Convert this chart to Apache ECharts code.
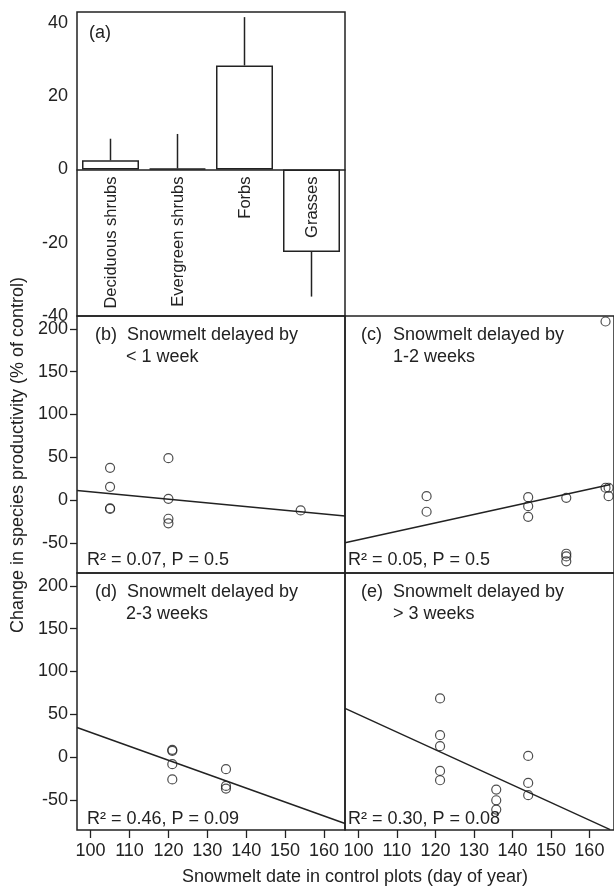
<!DOCTYPE html>
<html>
<head>
<meta charset="utf-8">
<script src="https://cdn.jsdelivr.net/npm/echarts@6/dist/echarts.min.js"></script>
<style>
html, body { margin: 0; padding: 0; background: #fff; }
#box { width: 614px; height: 889px; }
</style>
</head>
<body>
<div id="box"></div>
<script>
// (a) mean change per functional group, with one-sided error bars
const groups = ["Deciduous shrubs", "Evergreen shrubs", "Forbs", "Grasses"]
const groupMeans = [2.5, 0.3, 28.4, -22.5]
const groupErrs = [5.9, 9.4, 13.2, 12.2]
const ticksA = [-40, -20, 0, 20, 40]

// (b)-(e) [snowmelt day in control plots, change %]
const ptsB = [[105, 37.8], [105, 15.6], [105, -9.4], [105, -10.2], [120, 49], [120, 1.6], [120, -21.7], [120, -27], [154, -12]]
const ptsC = [[117.7, 4.7], [117.7, -13.5], [144.1, 3.5], [144.1, -7], [144.1, -19.4], [154, 2.8], [154, -62.5], [154, -65.6], [154, -71.4], [164.2, 14.5], [165, 14.5], [165, 4.7], [164.2, 208.6]]
const ptsD = [[121, 8.6], [121, 7.4], [121, -8.2], [121, -26], [134.8, -14], [134.8, -33.5], [134.8, -36.6]]
const ptsE = [[121.2, 68.6], [121.2, 25.7], [121.2, 12.9], [121.2, -16], [121.2, -26.9], [135.8, -37.8], [135.8, -50.3], [135.8, -61.2], [144.1, 1.5], [144.1, -30], [144.1, -44.4]]

// regression lines, ends
const fitB = [[96.5, 11.3], [165.4, -18.6]]
const fitC = [[96.5, -49.7], [165.5, 18.3]]
const fitD = [[96.5, 34.7], [165.4, -77.5]]
const fitE = [[96.5, 57], [165.4, -84.6]]

const yTicks = [-50, 0, 50, 100, 150, 200]
const xTicks = [100, 110, 120, 130, 140, 150, 160]

const ink = "#222"
const font = "Liberation Sans, Arial, sans-serif"

let myCharts = echarts.init(document.getElementById("box"))

function grid(left, top, width, height) {
	return { left, top, width, height, show: true, borderColor: ink, borderWidth: 1.5, backgroundColor: "transparent" }
}
function yScatter(gi, showLabels) {
	return {
		type: "value", gridIndex: gi, min: -85, max: 215,
		axisLine: { show: false, onZero: false },
		splitLine: { show: false },
		axisTick: { show: showLabels, length: 7, customValues: yTicks, lineStyle: { color: ink, width: 1.3 } },
		axisLabel: { show: showLabels, customValues: yTicks, margin: 9, fontSize: 18, color: ink, fontFamily: font },
	}
}
function xScatter(gi, max, showLabels) {
	return {
		type: "value", gridIndex: gi, min: 96.5, max: max,
		axisLine: { show: false, onZero: false },
		splitLine: { show: false },
		axisTick: { show: showLabels, length: 8, customValues: xTicks, lineStyle: { color: ink, width: 1.3 } },
		axisLabel: { show: showLabels, customValues: xTicks, margin: 12, fontSize: 18, color: ink, fontFamily: font },
	}
}
function pts(i, data) {
	return {
		type: "scatter", xAxisIndex: i, yAxisIndex: i, data: data,
		symbol: "circle", symbolSize: 9,
		itemStyle: { color: "rgba(0,0,0,0)", borderColor: ink, borderWidth: 1.2 },
	}
}
function fit(i, data) {
	return {
		type: "line", xAxisIndex: i, yAxisIndex: i, data: data,
		showSymbol: false, lineStyle: { color: ink, width: 1.5 },
	}
}
function txt(x, y, s, extra) {
	return {
		type: "text", x: x, y: y,
		style: Object.assign({ text: s, fontSize: 18, fontFamily: font, fill: ink, textAlign: "left", textVerticalAlign: "middle" }, extra || {}),
	}
}

let option = {
	animation: false,
	grid: [
		grid(77, 12, 268, 304),
		grid(77, 316, 268, 257),
		grid(345, 316, 272, 257),
		grid(77, 573, 268, 257),
		grid(345, 573, 272, 257),
	],
	xAxis: [
		{
			type: "category", gridIndex: 0, data: groups,
			axisLine: { onZero: true, lineStyle: { color: ink, width: 1.5 } },
			axisTick: { show: false },
			axisLabel: { show: false },
		},
		xScatter(1, 165.4, false),
		xScatter(2, 166.4, false),
		xScatter(3, 165.4, true),
		xScatter(4, 166.4, true),
	],
	yAxis: [
		{
			type: "value", gridIndex: 0, min: -40, max: 43,
			axisLine: { show: false },
			splitLine: { show: false },
			axisTick: { length: 7, customValues: ticksA, lineStyle: { color: ink, width: 1.3 } },
			axisLabel: { customValues: ticksA, margin: 9, fontSize: 18, color: ink, fontFamily: font },
		},
		yScatter(1, true),
		yScatter(2, false),
		yScatter(3, true),
		yScatter(4, false),
	],
	series: [
		{
			type: "bar", xAxisIndex: 0, yAxisIndex: 0, data: groupMeans, barWidth: 57,
			itemStyle: { color: "#fff", borderColor: ink, borderWidth: 1.5 },
		},
		{
			// one-sided error bars
			type: "custom", xAxisIndex: 0, yAxisIndex: 0,
			data: groupMeans.map((m, i) => [i, m, m >= 0 ? m + groupErrs[i] : m - groupErrs[i]]),
			renderItem: function(params, api) {
				let p0 = api.coord([api.value(0), api.value(1)])
				let p1 = api.coord([api.value(0), api.value(2)])
				return {
					type: "line",
					shape: { x1: p0[0], y1: p0[1], x2: p1[0], y2: p1[1] },
					style: { stroke: ink, lineWidth: 1.5 },
				}
			},
		},
		{
			// group names hang below the zero line, reading upwards
			type: "custom", xAxisIndex: 0, yAxisIndex: 0, z: 5,
			data: groups.map((g, i) => [i, 0]),
			renderItem: function(params, api) {
				let p = api.coord([api.value(0), 0])
				return {
					type: "text", x: p[0] + 1, y: p[1] + 7, rotation: Math.PI / 2,
					style: { text: groups[params.dataIndex], fontSize: 16.5, fontFamily: font, fill: ink, textAlign: "right", textVerticalAlign: "middle" },
				}
			},
		},
		pts(1, ptsB), fit(1, fitB),
		pts(2, ptsC), fit(2, fitC),
		pts(3, ptsD), fit(3, fitD),
		pts(4, ptsE), fit(4, fitE),
	],
	graphic: [
		txt(89, 33, "(a)"),
		txt(95, 335, "(b)"), txt(127, 335, "Snowmelt delayed by"), txt(126, 357, "< 1 week"),
		txt(361, 335, "(c)"), txt(393, 335, "Snowmelt delayed by"), txt(393, 357, "1-2 weeks"),
		txt(95, 592, "(d)"), txt(127, 592, "Snowmelt delayed by"), txt(126, 614, "2-3 weeks"),
		txt(361, 592, "(e)"), txt(393, 592, "Snowmelt delayed by"), txt(393, 614, "> 3 weeks"),
		txt(87, 560, "R² = 0.07, P = 0.5"),
		txt(348, 560, "R² = 0.05, P = 0.5"),
		txt(87, 819, "R² = 0.46, P = 0.09"),
		txt(348, 819, "R² = 0.30, P = 0.08"),
		txt(355, 877, "Snowmelt date in control plots (day of year)", { textAlign: "center" }),
		{
			type: "text", x: 18, y: 455, rotation: Math.PI / 2,
			style: { text: "Change in species productivity (% of control)", fontSize: 18, fontFamily: font, fill: ink, textAlign: "center", textVerticalAlign: "middle" },
		},
	],
}
myCharts.setOption(option)
</script>
</body>
</html>
